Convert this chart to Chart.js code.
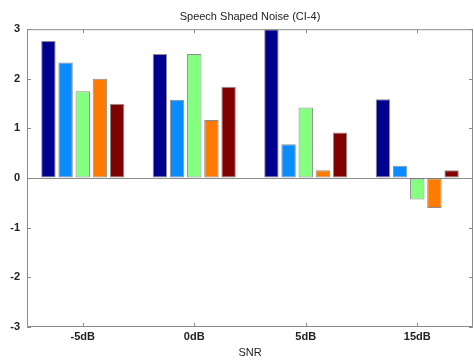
<!DOCTYPE html>
<html>
<head>
<meta charset="utf-8">
<script src="https://cdn.jsdelivr.net/npm/chart.js@4"></script>
<style>
  html, body { margin: 0; padding: 0; background: #fff; }
  #wrap { width: 474px; height: 360px; }
</style>
</head>
<body>
<div id="wrap"><canvas id="myChart" width="474" height="360"></canvas></div>
<script>
// SNR conditions and scores per series
const snrLabels = ['-5dB', '0dB', '5dB', '15dB'];
const series1 = [2.76, 2.5, 3.0, 1.59];
const series2 = [2.33, 1.58, 0.68, 0.25];
const series3 = [1.75, 2.5, 1.42, -0.43];
const series4 = [2.0, 1.17, 0.16, -0.6];
const series5 = [1.5, 1.84, 0.92, 0.16];
const yTicks = [-3, -2, -1, 0, 1, 2, 3];

const colors = ['#00008f', '#0a8cff', '#84ff80', '#ff7a00', '#800000'];
const allSeries = [series1, series2, series3, series4, series5];

const axisGray = '#8c8c8c';
const font = { family: '"Liberation Sans", Arial, sans-serif', size: 11 };

// inside tick marks + box around plot, title centred over plot
const boxPlugin = {
    id: 'boxPlugin',
    afterLayout(chart) {
        const tb = chart.titleBlock;
        if (tb) {
            tb.left = chart.chartArea.left;
            tb.right = chart.chartArea.right;
        }
    },
    afterDraw(chart) {
        const { ctx, chartArea: a, scales } = chart;
        ctx.save();
        ctx.strokeStyle = axisGray;
        ctx.lineWidth = 1;
        ctx.beginPath();
        ctx.rect(a.left + 0.5, a.top + 0.5, a.right - a.left - 1, a.bottom - a.top - 1);
        scales.y.ticks.forEach((t, i) => {
            const y = Math.round(scales.y.getPixelForTick(i)) + 0.5;
            ctx.moveTo(a.left, y); ctx.lineTo(a.left + 4, y);
            ctx.moveTo(a.right, y); ctx.lineTo(a.right - 4, y);
        });
        scales.x.ticks.forEach((t, i) => {
            const x = Math.round(scales.x.getPixelForTick(i)) + 0.5;
            ctx.moveTo(x, a.top); ctx.lineTo(x, a.top + 4);
            ctx.moveTo(x, a.bottom); ctx.lineTo(x, a.bottom - 4);
        });
        ctx.stroke();
        ctx.restore();
    }
};

const ctx = document.getElementById('myChart').getContext('2d');
new Chart(ctx, {
    type: 'bar',
    data: {
        labels: snrLabels,
        datasets: allSeries.map((d, i) => ({
            label: 'Series ' + (i + 1),
            data: d,
            backgroundColor: colors[i],
            borderColor: 'rgba(0,0,0,0.45)',
            borderWidth: 1,
            borderSkipped: false,
            categoryPercentage: 0.77,
            barPercentage: 0.84
        }))
    },
    options: {
        responsive: false,
        animation: false,
        layout: { padding: { right: 1, left: 0 } },
        plugins: {
            legend: { display: false },
            tooltip: { enabled: false },
            title: {
                display: true,
                text: 'Speech Shaped Noise (CI-4)',
                color: '#222',
                font: { ...font, size: 11, weight: 'normal' },
                padding: { top: 10, bottom: 6 }
            }
        },
        scales: {
            x: {
                grid: { display: false, drawTicks: false },
                border: { display: false },
                ticks: { color: '#222', font: { ...font, weight: 'bold' }, padding: 3 },
                title: { display: true, text: 'SNR', color: '#222', font: font, padding: { top: 1, bottom: 0 } },
                afterFit: s => { s.height = 33; }
            },
            y: {
                min: -3,
                max: 3,
                afterBuildTicks: s => { s.ticks = yTicks.map(v => ({ value: v })); },
                grid: {
                    drawTicks: false,
                    color: c => (c.tick && c.tick.value === 0 ? axisGray : 'rgba(0,0,0,0)')
                },
                border: { display: false },
                ticks: { color: '#222', font: { ...font, weight: 'bold' }, padding: 7 },
                afterFit: s => { s.width = 27; }
            }
        }
    },
    plugins: [boxPlugin]
});
</script>
</body>
</html>
